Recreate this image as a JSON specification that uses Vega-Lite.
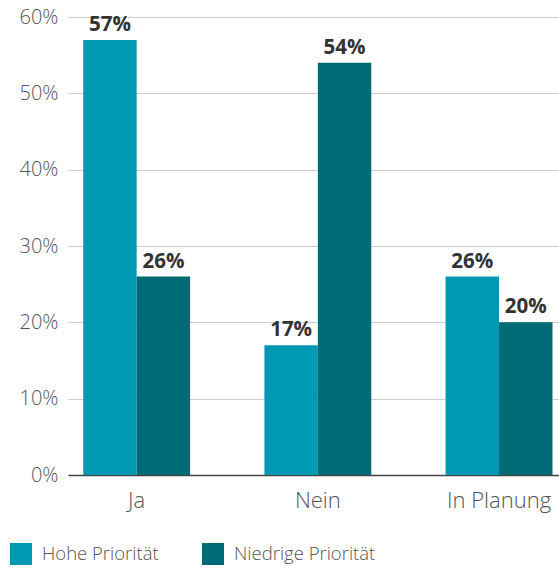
{
  "$schema": "https://vega.github.io/schema/vega-lite/v6.json",
  "width": 491,
  "height": 458,
  "autosize": {"type": "none"},
  "padding": {"left": 68, "top": 17, "right": 0, "bottom": 96},
  "config": {
    "font": "Open Sans",
    "view": {"stroke": null},
    "axis": {"labelFont": "Open Sans", "labelFontWeight": 300}
  },
  "data": {
    "values": [
      {"antwort": "Ja", "prioritaet": "Hohe Priorität", "wert": 0.57},
      {"antwort": "Ja", "prioritaet": "Niedrige Priorität", "wert": 0.26},
      {"antwort": "Nein", "prioritaet": "Hohe Priorität", "wert": 0.17},
      {"antwort": "Nein", "prioritaet": "Niedrige Priorität", "wert": 0.54},
      {"antwort": "In Planung", "prioritaet": "Hohe Priorität", "wert": 0.26},
      {"antwort": "In Planung", "prioritaet": "Niedrige Priorität", "wert": 0.20}
    ]
  },
  "encoding": {
    "x": {
      "field": "antwort",
      "type": "nominal",
      "sort": ["Ja", "Nein", "In Planung"],
      "scale": {"paddingInner": 0.41, "paddingOuter": 0.06, "align": 0.7},
      "axis": {
        "title": null,
        "labelAngle": 0,
        "labelFontSize": 22,
        "labelColor": "#555555",
        "labelPadding": 15,
        "ticks": false,
        "domainColor": "#444444",
        "domainWidth": 1.5
      }
    },
    "xOffset": {"field": "prioritaet", "type": "nominal", "sort": ["Hohe Priorität", "Niedrige Priorität"]},
    "y": {
      "field": "wert",
      "type": "quantitative",
      "scale": {"domain": [0, 0.6]},
      "axis": {
        "title": null,
        "format": ".0%",
        "values": [0, 0.1, 0.2, 0.3, 0.4, 0.5, 0.6],
        "labelFontSize": 20,
        "labelColor": "#555555",
        "labelPadding": 10,
        "ticks": false,
        "domain": false,
        "gridColor": "#cccccc",
        "gridWidth": 1.2
      }
    }
  },
  "layer": [
    {
      "mark": {"type": "bar"},
      "encoding": {
        "color": {
          "field": "prioritaet",
          "type": "nominal",
          "sort": ["Hohe Priorität", "Niedrige Priorität"],
          "scale": {"range": ["#0099B4", "#006B77"]},
          "legend": {
            "title": null,
            "orient": "none",
            "direction": "horizontal",
            "legendX": -58,
            "legendY": 526,
            "symbolType": "square",
            "symbolSize": 484,
            "symbolStrokeWidth": 0,
            "labelFontSize": 18.5,
            "labelFont": "Open Sans",
            "labelFontWeight": 300,
            "labelColor": "#555555",
            "labelOffset": 10,
            "columnPadding": 43
          }
        }
      }
    },
    {
      "mark": {"type": "text", "baseline": "bottom", "dy": -5, "fontSize": 20.5, "fontWeight": "bold", "color": "#333333", "font": "Open Sans"},
      "encoding": {
        "text": {"field": "wert", "type": "quantitative", "format": ".0%"}
      }
    }
  ]
}
